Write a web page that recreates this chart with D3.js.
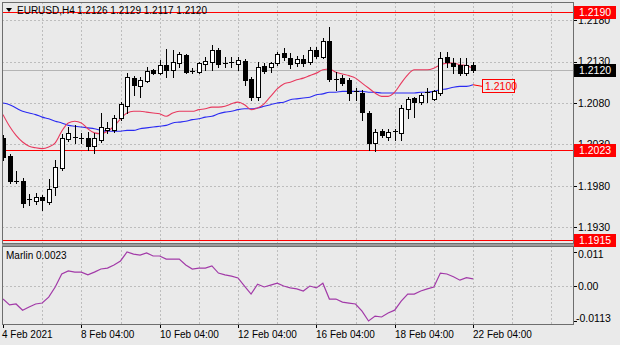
<!DOCTYPE html>
<html>
<head>
<meta charset="utf-8">
<script src="https://cdn.jsdelivr.net/npm/d3@7"></script>
<style>
  html, body { margin: 0; padding: 0; background: #eaeaea; }
  svg { display: block; font-family: "Liberation Sans", Arial, sans-serif; }
</style>
</head>
<body>
<svg id="chart"></svg>
<script>
// EURUSD H4 bars, 4 Feb 04:00 .. 22 Feb 04:00
const symbol = 'EURUSD,H4'
const opens = [1.2038,1.2016,1.1986,1.1986,1.1963,1.1962,1.1967,1.1961,1.1979,1.2002,
  1.2037,1.2039,1.2038,1.2038,1.2028,1.2035,1.2047,1.2047,1.2062,1.2076,
  1.2110,1.2100,1.2107,1.2120,1.2116,1.2126,1.2120,1.2128,1.2138,1.2119,
  1.2117,1.2127,1.2129,1.2144,1.2128,1.2128,1.2127,1.2131,1.2109,1.2087,
  1.2125,1.2123,1.2128,1.2140,1.2134,1.2128,1.2133,1.2129,1.2144,1.2135,
  1.2155,1.2109,1.2110,1.2108,1.2093,1.2092,1.2068,1.2032,1.2046,1.2039,
  1.2045,1.2044,1.2073,1.2086,1.2081,1.2092,1.2085,1.2092,1.2135,1.2128,
  1.2126,1.2116,1.2126]
const highs = [1.2041,1.2019,1.1998,1.1990,1.1970,1.1972,1.1969,1.1988,1.2011,1.2043,
  1.2051,1.2053,1.2044,1.2045,1.2044,1.2068,1.2057,1.2066,1.2081,1.2116,
  1.2113,1.2111,1.2123,1.2121,1.2132,1.2145,1.2144,1.2142,1.2139,1.2122,
  1.2129,1.2135,1.2150,1.2146,1.2135,1.2135,1.2135,1.2133,1.2111,1.2129,
  1.2128,1.2129,1.2142,1.2146,1.2140,1.2137,1.2138,1.2147,1.2147,1.2158,
  1.2172,1.2117,1.2114,1.2110,1.2098,1.2096,1.2070,1.2049,1.2049,1.2049,
  1.2049,1.2078,1.2087,1.2087,1.2092,1.2098,1.2096,1.2142,1.2141,1.2134,
  1.2134,1.2134,1.2129]
const lows = [1.2011,1.1984,1.1984,1.1955,1.1957,1.1958,1.1951,1.1958,1.1969,1.1999,
  1.2034,1.2032,1.2032,1.2023,1.2020,1.2033,1.2044,1.2045,1.2060,1.2068,
  1.2090,1.2087,1.2105,1.2115,1.2115,1.2111,1.2111,1.2123,1.2116,1.2116,
  1.2116,1.2120,1.2120,1.2123,1.2123,1.2123,1.2120,1.2102,1.2084,1.2084,
  1.2116,1.2117,1.2126,1.2132,1.2122,1.2125,1.2125,1.2127,1.2134,1.2134,
  1.2107,1.2096,1.2102,1.2084,1.2084,1.2060,1.2023,1.2022,1.2039,1.2035,
  1.2035,1.2035,1.2062,1.2063,1.2079,1.2081,1.2084,1.2090,1.2123,1.2116,
  1.2114,1.2114,1.2117]
const closes = [1.2015,1.1986,1.1985,1.1960,1.1964,1.1967,1.1963,1.1976,1.2003,1.2038,
  1.2044,1.2039,1.2037,1.2028,1.2038,1.2051,1.2050,1.2062,1.2079,1.2111,
  1.2102,1.2108,1.2119,1.2116,1.2126,1.2120,1.2129,1.2139,1.2117,1.2118,
  1.2128,1.2131,1.2144,1.2127,1.2128,1.2129,1.2132,1.2108,1.2087,1.2123,
  1.2119,1.2128,1.2139,1.2135,1.2127,1.2133,1.2128,1.2144,1.2137,1.2155,
  1.2109,1.2108,1.2104,1.2092,1.2094,1.2069,1.2032,1.2045,1.2041,1.2045,
  1.2046,1.2074,1.2085,1.2081,1.2090,1.2093,1.2094,1.2134,1.2129,1.2125,
  1.2116,1.2126,1.2120]

// moving averages
const maFast = [1.2066,1.2052,1.2041,1.2033,1.2028,1.2026,1.2025,1.2027,1.2032,1.2046,
  1.2056,1.2058,1.2056,1.2049,1.2044,1.2043,1.2046,1.2052,1.2061,1.2068,
  1.2070,1.2070,1.2069,1.2068,1.2067,1.2064,1.2068,1.2070,1.2070,1.2070,
  1.2072,1.2073,1.2075,1.2075,1.2076,1.2079,1.2081,1.2078,1.2072,1.2074,
  1.2079,1.2088,1.2097,1.2103,1.2105,1.2108,1.2110,1.2113,1.2116,1.2120,
  1.2121,1.2117,1.2115,1.2113,1.2110,1.2104,1.2098,1.2092,1.2088,1.2088,
  1.2093,1.2104,1.2114,1.2120,1.2120,1.2120,1.2122,1.2126,1.2128,1.2128,
  1.2126,1.2125,1.2122]
const maSlow = [1.2080,1.2078,1.2074,1.2070,1.2068,1.2066,1.2063,1.2061,1.2058,1.2056,
  1.2053,1.2052,1.2051,1.2050,1.2049,1.2047,1.2046,1.2046,1.2046,1.2047,
  1.2047,1.2049,1.2050,1.2051,1.2052,1.2053,1.2056,1.2057,1.2058,1.2060,
  1.2061,1.2063,1.2064,1.2067,1.2069,1.2070,1.2072,1.2073,1.2073,1.2074,
  1.2076,1.2078,1.2080,1.2081,1.2084,1.2085,1.2086,1.2087,1.2090,1.2091,
  1.2093,1.2093,1.2094,1.2094,1.2094,1.2094,1.2093,1.2093,1.2092,1.2092,
  1.2092,1.2092,1.2092,1.2092,1.2093,1.2093,1.2094,1.2096,1.2097,1.2099,
  1.2100,1.2100,1.2102]

const marlin = [-0.0042,-0.0061,-0.0058,-0.0078,-0.0068,-0.0058,-0.0055,-0.0036,-0.0003,0.0039,
  0.0049,0.0045,0.0045,0.0036,0.0045,0.0055,0.0058,0.0068,0.0081,0.0110,
  0.0103,0.0100,0.0107,0.0097,0.0097,0.0087,0.0087,0.0087,0.0068,0.0055,
  0.0058,0.0058,0.0065,0.0042,0.0036,0.0032,0.0026,0.0000,-0.0026,0.0006,
  -0.0003,0.0003,0.0009,0.0000,-0.0006,-0.0009,-0.0016,0.0000,-0.0006,0.0009,
  -0.0042,-0.0042,-0.0052,-0.0055,-0.0058,-0.0081,-0.0113,-0.0097,-0.0100,-0.0087,
  -0.0078,-0.0049,-0.0026,-0.0026,-0.0016,-0.0009,-0.0003,0.0042,0.0039,0.0030,
  0.0019,0.0027,0.0023]

const priceTicks = [1.2180, 1.2130, 1.2080, 1.2030, 1.1980, 1.1930]
const levels = [1.2190, 1.2023, 1.1915]
const bid = 1.2120
const maTag = 1.2100
const marlinTicks = [0.011, 0, -0.0113]
const marlinTickLabels = ['0.011', '0.00', '-0.0113']
const timeLabels = ['4 Feb 2021', '8 Feb 04:00', '10 Feb 04:00', '12 Feb 04:00', '16 Feb 04:00', '18 Feb 04:00', '22 Feb 04:00']
const timeLabelBars = [0, 12, 24, 36, 48, 60, 72]

const W = 620, H = 345
const main = {left: 2, right: 573, top: 2, bottom: 243}
const ind = {top: 246, bottom: 324}

const svg = d3.select('#chart').attr('width', W).attr('height', H)

svg.append('rect').attr('width', W).attr('height', H).attr('fill', '#eaeaea')

const x = d3.scaleLinear().domain([0, 72]).range([3, 473])
const y = d3.scaleLinear().domain([1.19113, 1.22005]).range([243, 3])
const yM = d3.scaleLinear().domain([-0.0113, 0.011]).range([321, 252])

const defs = svg.append('defs')
defs.append('clipPath').attr('id', 'clipMain')
  .append('rect').attr('x', main.left + 1).attr('y', main.top + 1)
  .attr('width', main.right - main.left - 1).attr('height', main.bottom - main.top - 1)
defs.append('clipPath').attr('id', 'clipInd')
  .append('rect').attr('x', main.left + 1).attr('y', ind.top + 1)
  .attr('width', main.right - main.left - 1).attr('height', ind.bottom - ind.top - 1)

const gridColor = '#bdbdbd'
const vgrid = d3.range(6, 85, 6)

// main grid
const gMain = svg.append('g').attr('clip-path', 'url(#clipMain)')
gMain.selectAll('.vg').data(vgrid).join('line')
  .attr('x1', d => Math.round(x(d)) + 0.5).attr('x2', d => Math.round(x(d)) + 0.5)
  .attr('y1', main.top).attr('y2', main.bottom)
  .attr('stroke', gridColor).attr('stroke-dasharray', '2,2')
gMain.selectAll('.hg').data(priceTicks).join('line')
  .attr('x1', main.left).attr('x2', main.right)
  .attr('y1', d => Math.round(y(d)) + 0.5).attr('y2', d => Math.round(y(d)) + 0.5)
  .attr('stroke', gridColor).attr('stroke-dasharray', '2,2')

// bid line
gMain.append('line')
  .attr('x1', main.left).attr('x2', main.right)
  .attr('y1', Math.round(y(bid)) + 0.5).attr('y2', Math.round(y(bid)) + 0.5)
  .attr('stroke', '#b4b4b4')

// horizontal levels
gMain.selectAll('.lvl').data(levels).join('line')
  .attr('x1', main.left).attr('x2', main.right)
  .attr('y1', d => Math.round(y(d)) + 0.5).attr('y2', d => Math.round(y(d)) + 0.5)
  .attr('stroke', '#ff0000')

// moving averages
const idx = d3.range(opens.length)
const maLine = arr => d3.line().x(i => x(i)).y(i => y(arr[i])).curve(d3.curveMonotoneX)(idx)
gMain.append('path').attr('d', maLine(maSlow)).attr('fill', 'none').attr('stroke', '#2a2af2').attr('stroke-width', 1.1)
gMain.append('path').attr('d', maLine(maFast)).attr('fill', 'none').attr('stroke', '#e8395e').attr('stroke-width', 1.1)

// candles
const bars = idx.map(i => ({i, o: opens[i], h: highs[i], l: lows[i], c: closes[i]}))
const gC = gMain.append('g')
const cand = gC.selectAll('g').data(bars).join('g')
cand.append('line')
  .attr('x1', d => Math.round(x(d.i)) + 0.5).attr('x2', d => Math.round(x(d.i)) + 0.5)
  .attr('y1', d => Math.round(y(d.h))).attr('y2', d => Math.round(y(d.l)) + 1)
  .attr('stroke', '#000')
cand.each(function(d) {
  const g = d3.select(this)
  const px = Math.round(x(d.i))
  const top = Math.round(y(Math.max(d.o, d.c)))
  const bot = Math.round(y(Math.min(d.o, d.c)))
  if (bot - top < 2) {
    g.append('line').attr('x1', px - 2).attr('x2', px + 3)
      .attr('y1', top + 0.5).attr('y2', top + 0.5).attr('stroke', '#000')
  } else if (d.c > d.o) {
    g.append('rect').attr('x', px - 1.5).attr('y', top + 0.5)
      .attr('width', 4).attr('height', bot - top)
      .attr('fill', '#fff').attr('stroke', '#000')
  } else {
    g.append('rect').attr('x', px - 2).attr('y', top)
      .attr('width', 5).attr('height', bot - top + 1).attr('fill', '#000')
  }
})

// MA tag
const tagY = Math.round(y(maTag)) + 0.5
svg.append('line').attr('x1', x(72)).attr('y1', y(maSlow[72]))
  .attr('x2', 483).attr('y2', tagY).attr('stroke', '#ff0000')
svg.append('rect').attr('x', 482.5).attr('y', tagY - 7).attr('width', 32).attr('height', 13)
  .attr('fill', '#eaeaea').attr('stroke', '#ff0000')
svg.append('text').attr('x', 485).attr('y', tagY).attr('dy', '0.36em')
  .attr('font-size', 10.5).attr('fill', '#ff0000').text(d3.format('.4f')(maTag))

// indicator panel
const gInd = svg.append('g').attr('clip-path', 'url(#clipInd)')
gInd.selectAll('.vg').data(vgrid).join('line')
  .attr('x1', d => Math.round(x(d)) + 0.5).attr('x2', d => Math.round(x(d)) + 0.5)
  .attr('y1', ind.top).attr('y2', ind.bottom)
  .attr('stroke', gridColor).attr('stroke-dasharray', '2,2')
gInd.append('line').attr('x1', main.left).attr('x2', main.right)
  .attr('y1', Math.round(yM(0)) + 0.5).attr('y2', Math.round(yM(0)) + 0.5)
  .attr('stroke', gridColor).attr('stroke-dasharray', '2,2')
gInd.append('path')
  .attr('d', d3.line().x(i => x(i)).y(i => yM(marlin[i]))(idx))
  .attr('fill', 'none').attr('stroke', '#a23aa8').attr('stroke-width', 1.2)

// frames
svg.append('rect').attr('x', main.left + 0.5).attr('y', main.top + 0.5)
  .attr('width', main.right - main.left).attr('height', main.bottom - main.top)
  .attr('fill', 'none').attr('stroke', '#6e6e6e')
svg.append('rect').attr('x', main.left).attr('y', main.bottom + 1)
  .attr('width', main.right - main.left + 1).attr('height', ind.top - main.bottom - 1)
  .attr('fill', '#9c9c9c')
svg.append('rect').attr('x', main.left + 0.5).attr('y', ind.top + 0.5)
  .attr('width', main.right - main.left).attr('height', ind.bottom - ind.top)
  .attr('fill', 'none').attr('stroke', '#6e6e6e')

// price axis
const fmt4 = d3.format('.4f')
const axisG = svg.append('g').attr('font-size', 10.5)
axisG.selectAll('.pt').data(priceTicks).join('line')
  .attr('x1', main.right + 1).attr('x2', main.right + 4)
  .attr('y1', d => Math.round(y(d)) + 0.5).attr('y2', d => Math.round(y(d)) + 0.5)
  .attr('stroke', '#000')
axisG.selectAll('.pl').data(priceTicks).join('text')
  .attr('x', 578).attr('y', d => y(d)).attr('dy', '0.36em')
  .attr('fill', '#000').text(d => fmt4(d))

// price boxes
const boxes = levels.map(v => ({v, fill: '#ff0000'})).concat([{v: bid, fill: '#000'}])
const boxG = axisG.selectAll('.bx').data(boxes).join('g')
boxG.append('rect').attr('x', 574).attr('y', d => Math.round(y(d.v)) - 6)
  .attr('width', 42).attr('height', 13).attr('fill', d => d.fill)
boxG.append('text').attr('x', 579).attr('y', d => Math.round(y(d.v)) + 0.5).attr('dy', '0.36em')
  .attr('fill', '#fff').text(d => fmt4(d.v))

// indicator axis
axisG.selectAll('.mt').data(marlinTicks).join('line')
  .attr('x1', main.right + 1).attr('x2', main.right + 4)
  .attr('y1', d => Math.round(yM(d)) + 0.5).attr('y2', d => Math.round(yM(d)) + 0.5)
  .attr('stroke', '#000')
axisG.selectAll('.ml').data(marlinTicks).join('text')
  .attr('x', d => d < 0 ? 576 : 578)
  .attr('y', (d, i) => yM(d) + (i === 0 ? 2 : i === 2 ? -3 : 0)).attr('dy', '0.36em')
  .attr('fill', '#000').text((d, i) => marlinTickLabels[i])

// time axis
const tG = svg.append('g').attr('font-size', 10)
tG.selectAll('line').data(timeLabelBars).join('line')
  .attr('x1', d => Math.round(x(d)) + 0.5).attr('x2', d => Math.round(x(d)) + 0.5)
  .attr('y1', ind.bottom + 1).attr('y2', ind.bottom + 4).attr('stroke', '#000')
tG.selectAll('text').data(timeLabelBars).join('text')
  .attr('x', (d, i) => i === 0 ? 2 : Math.round(x(d)))
  .attr('y', 338).attr('fill', '#000').text((d, i) => timeLabels[i])

// titles
const last = bars[bars.length - 1]
svg.append('path').attr('d', 'M6,8 L12,8 L9,12 Z').attr('fill', '#000')
svg.append('text').attr('x', 17).attr('y', 14).attr('font-size', 10).attr('fill', '#000').text(symbol)
svg.append('text').attr('x', 77).attr('y', 14).attr('font-size', 10).attr('fill', '#000')
  .text([last.o, last.h, last.l, last.c].map(fmt4).join(' '))
svg.append('text').attr('x', 6).attr('y', 259).attr('font-size', 10).attr('fill', '#000')
  .text('Marlin ' + fmt4(marlin[marlin.length - 1]))
</script>
</body>
</html>
